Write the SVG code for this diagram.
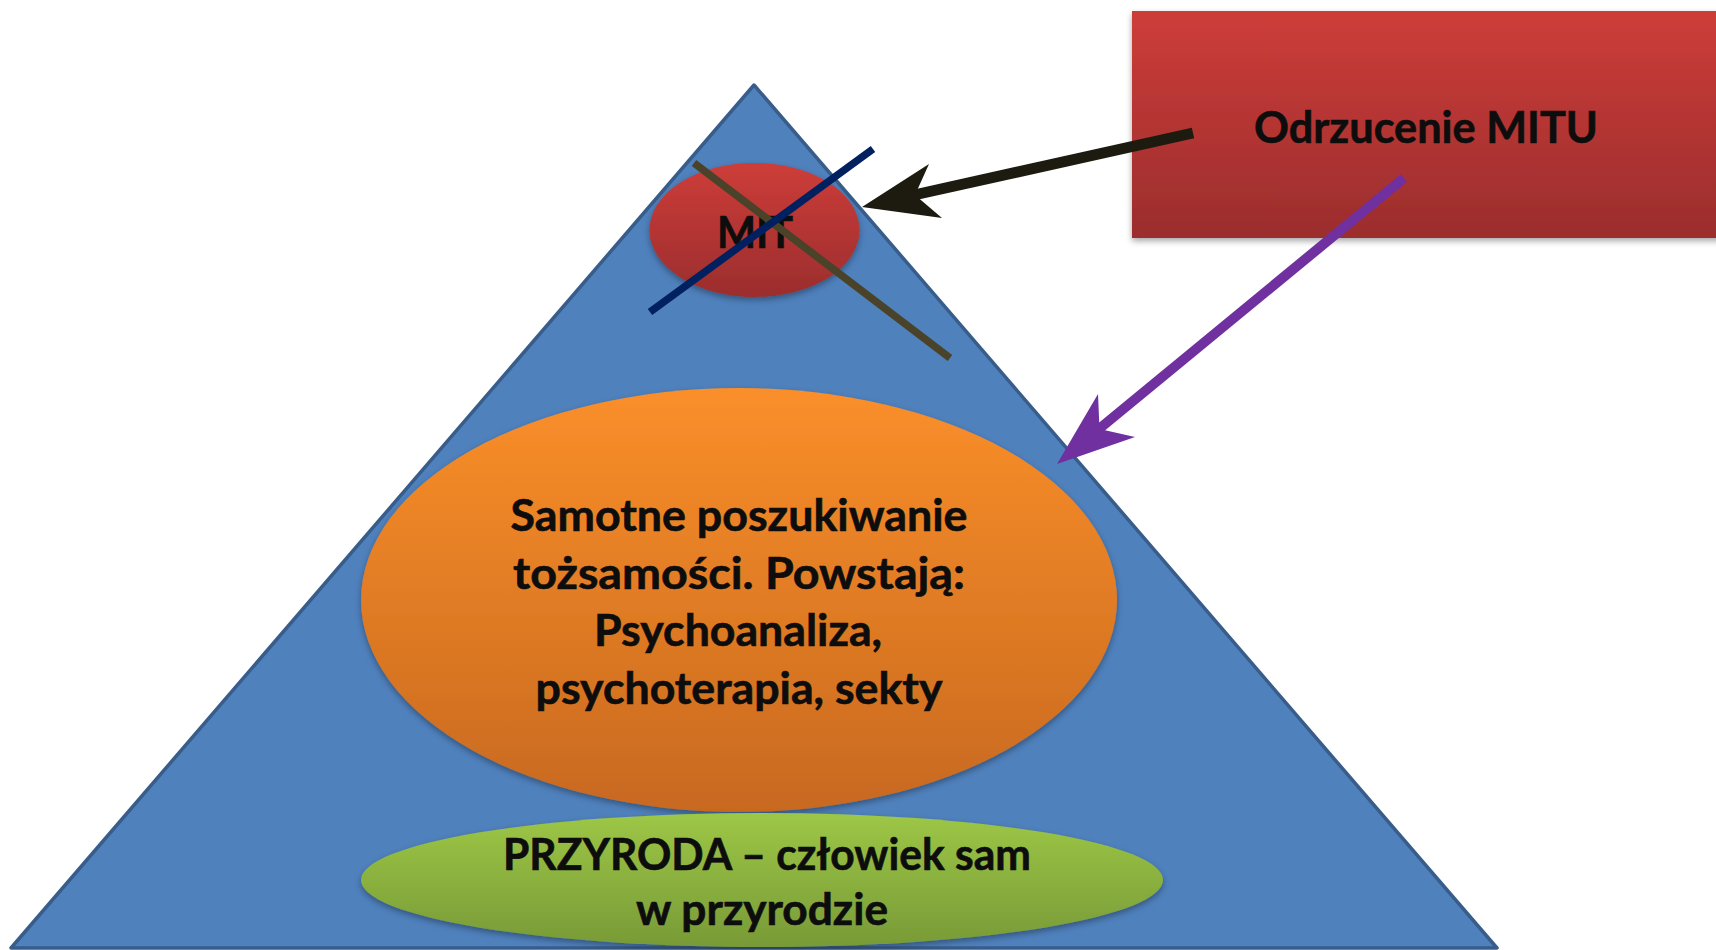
<svg xmlns="http://www.w3.org/2000/svg" width="1716" height="950" viewBox="0 0 1716 950">
  <defs>
    <linearGradient id="gRed" x1="0" y1="0" x2="0" y2="1">
      <stop offset="0" stop-color="#CD3D39"/>
      <stop offset="1" stop-color="#9B2D2D"/>
    </linearGradient>
    <linearGradient id="gOrange" x1="0" y1="0" x2="0" y2="1">
      <stop offset="0" stop-color="#FA8F2A"/>
      <stop offset="1" stop-color="#C8691F"/>
    </linearGradient>
    <linearGradient id="gGreen" x1="0" y1="0" x2="0" y2="1">
      <stop offset="0" stop-color="#9DC746"/>
      <stop offset="1" stop-color="#789A37"/>
    </linearGradient>
    <filter id="shadow" x="-10%" y="-10%" width="120%" height="130%">
      <feDropShadow dx="0" dy="3" stdDeviation="3" flood-color="#000" flood-opacity="0.35"/>
    </filter>
    <style>
      .lbl { font-family: "Lato", "Open Sans", "Liberation Sans", sans-serif; font-weight: bold; font-size: 43px; fill: #0D0D0D; stroke: #0D0D0D; stroke-width: 0.6px; text-anchor: middle; }
    </style>
  </defs>

  <rect width="1716" height="950" fill="#FFFFFF"/>

  <!-- pyramid -->
  <g id="pyramid">
    <polygon points="754,85 1497,948 11,948" fill="#4F81BD" stroke="#385D8A" stroke-width="3.5" stroke-linejoin="round"/>
  </g>

  <!-- myth at the top -->
  <g id="mit">
    <ellipse cx="754.5" cy="230" rx="105" ry="67" fill="url(#gRed)" filter="url(#shadow)"/>
    <text class="lbl" x="755" y="248" textLength="76" lengthAdjust="spacingAndGlyphs">MIT</text>
  </g>

  <!-- middle layer -->
  <g id="tozsamosc">
    <ellipse cx="739" cy="600" rx="378" ry="212" fill="url(#gOrange)" filter="url(#shadow)"/>
    <text class="lbl" x="739" y="531" textLength="457" lengthAdjust="spacingAndGlyphs">Samotne poszukiwanie</text>
    <text class="lbl" x="739" y="589" textLength="452" lengthAdjust="spacingAndGlyphs">tożsamości. Powstają:</text>
    <text class="lbl" x="738" y="646" textLength="288" lengthAdjust="spacingAndGlyphs">Psychoanaliza,</text>
    <text class="lbl" x="739" y="704" textLength="407" lengthAdjust="spacingAndGlyphs">psychoterapia, sekty</text>
  </g>

  <!-- base layer -->
  <g id="przyroda">
    <ellipse cx="762" cy="880" rx="401" ry="67" fill="url(#gGreen)" filter="url(#shadow)"/>
    <text class="lbl" x="767" y="870" textLength="528" lengthAdjust="spacingAndGlyphs">PRZYRODA – człowiek sam</text>
    <text class="lbl" x="762" y="925" textLength="252" lengthAdjust="spacingAndGlyphs">w przyrodzie</text>
  </g>

  <!-- rejection box -->
  <g id="odrzucenie">
    <rect x="1132" y="11" width="590" height="227" fill="url(#gRed)" filter="url(#shadow)"/>
    <text class="lbl" x="1426" y="143" textLength="344" lengthAdjust="spacingAndGlyphs">Odrzucenie MITU</text>
  </g>

  <!-- connectors -->
  <g id="connectors">
    <!-- crossing-out strokes -->
    <line x1="694" y1="163" x2="950" y2="358" stroke="#4A4329" stroke-width="7.5"/>
    <line x1="650" y1="312" x2="873" y2="149" stroke="#002060" stroke-width="7.5"/>
    <!-- arrow to the myth -->
    <line x1="1193" y1="133" x2="914" y2="195" stroke="#1D1B10" stroke-width="11"/>
    <polygon points="862,207 929,164 915,195 942,218" fill="#1D1B10"/>
    <!-- arrow to the middle layer -->
    <line x1="1404" y1="178" x2="1099" y2="429" stroke="#7030A0" stroke-width="10"/>
    <polygon points="1057,464 1098,394 1099.5,429 1135,437" fill="#7030A0"/>
  </g>
</svg>
